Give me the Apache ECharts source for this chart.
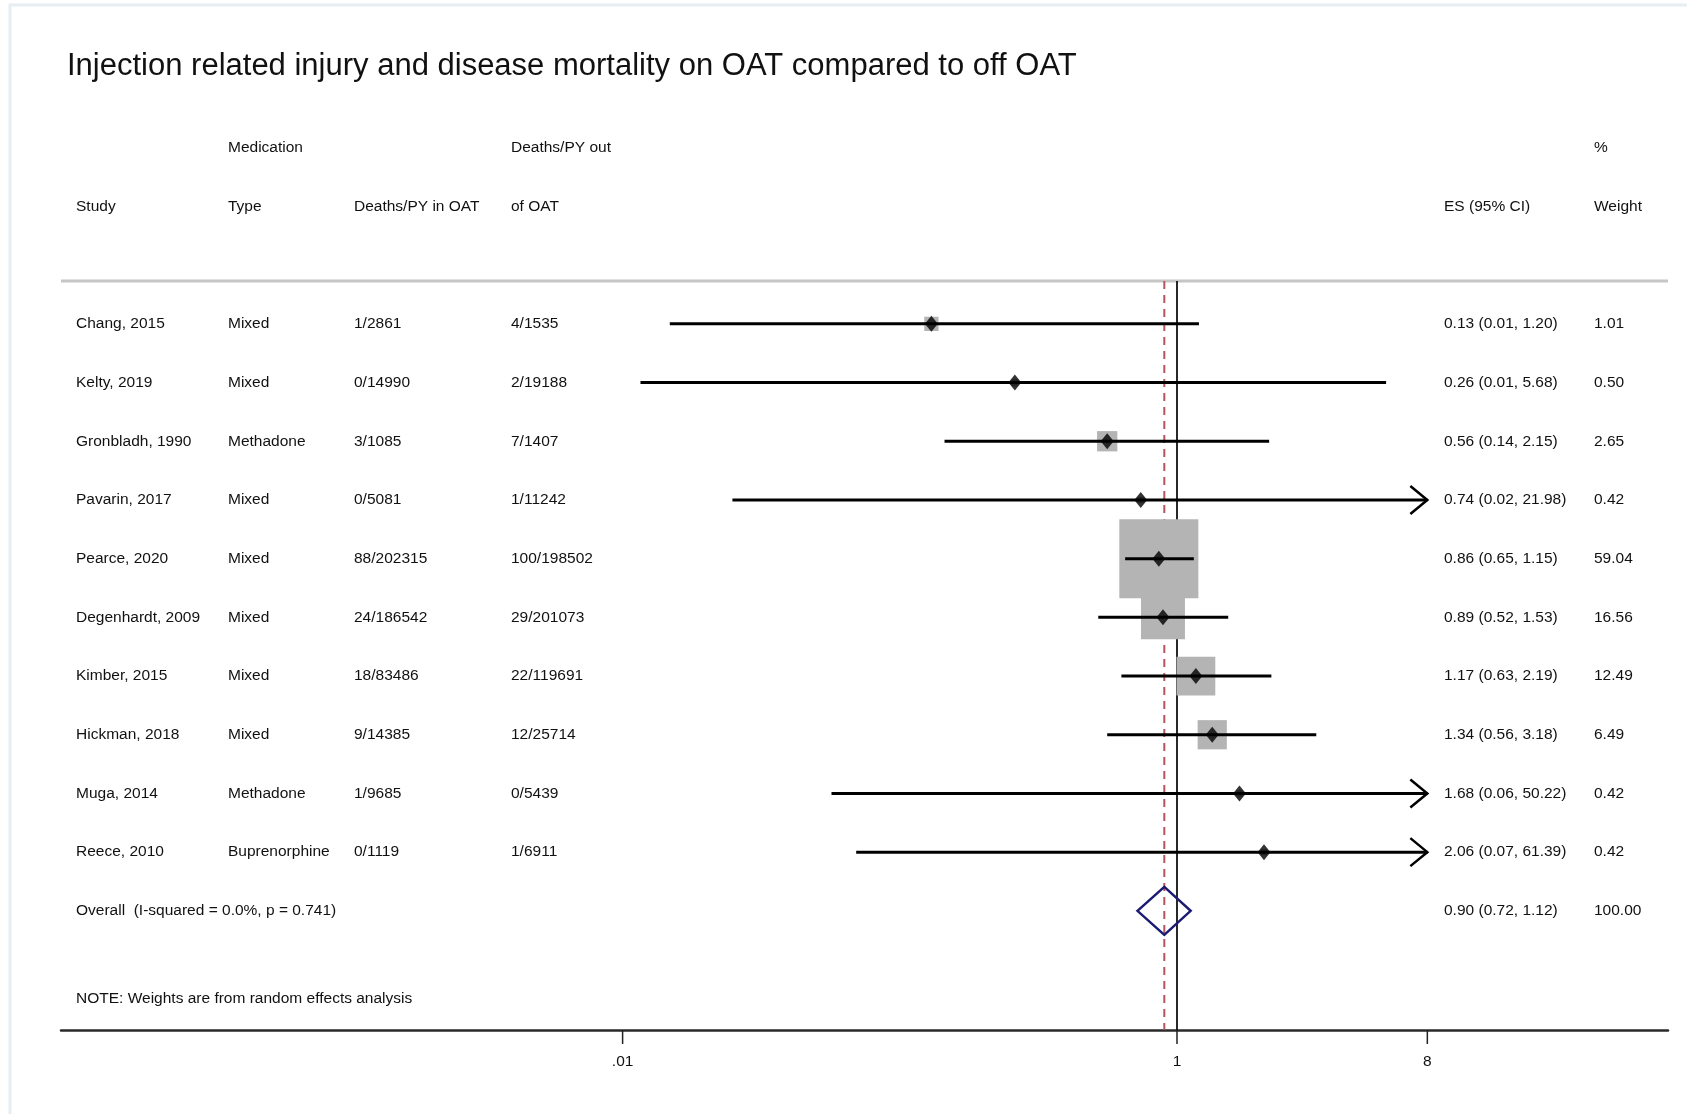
<!DOCTYPE html>
<html><head><meta charset="utf-8">
<script src="https://cdn.jsdelivr.net/npm/echarts@6/dist/echarts.min.js"></script>
<style>html,body{margin:0;padding:0;background:#fff}#c{width:1687px;height:1114px}</style>
</head><body><div id="c"></div>
<script>
// ---------------- data ----------------
const chartTitle = 'Injection related injury and disease mortality on OAT compared to off OAT';
const studies = ['Chang, 2015','Kelty, 2019','Gronbladh, 1990','Pavarin, 2017','Pearce, 2020','Degenhardt, 2009','Kimber, 2015','Hickman, 2018','Muga, 2014','Reece, 2010'];
const medTypes = ['Mixed','Mixed','Methadone','Mixed','Mixed','Mixed','Mixed','Mixed','Methadone','Buprenorphine'];
const deathsInOAT = ['1/2861','0/14990','3/1085','0/5081','88/202315','24/186542','18/83486','9/14385','1/9685','0/1119'];
const deathsOutOAT = ['4/1535','2/19188','7/1407','1/11242','100/198502','29/201073','22/119691','12/25714','0/5439','1/6911'];
const esValues = [0.13,0.26,0.56,0.74,0.86,0.89,1.17,1.34,1.68,2.06];
const ciLow = [0.0148,0.0116,0.145,0.0249,0.65,0.52,0.63,0.56,0.0567,0.0696];
const ciHigh = [1.20,5.68,2.15,21.98,1.15,1.53,2.19,3.18,50.22,61.39];
const esText = ['0.13 (0.01, 1.20)','0.26 (0.01, 5.68)','0.56 (0.14, 2.15)','0.74 (0.02, 21.98)','0.86 (0.65, 1.15)','0.89 (0.52, 1.53)','1.17 (0.63, 2.19)','1.34 (0.56, 3.18)','1.68 (0.06, 50.22)','2.06 (0.07, 61.39)'];
const weights = [1.01,0.50,2.65,0.42,59.04,16.56,12.49,6.49,0.42,0.42];
const weightText = ['1.01','0.50','2.65','0.42','59.04','16.56','12.49','6.49','0.42','0.42'];
const overallLabel = 'Overall  (I-squared = 0.0%, p = 0.741)';
const overallES = 0.90, overallLow = 0.72, overallHigh = 1.12;
const overallText = '0.90 (0.72, 1.12)';
const overallWeightText = '100.00';
const noteText = 'NOTE: Weights are from random effects analysis';
const headerLine1 = ['', 'Medication', '', 'Deaths/PY out', '', '%'];
const headerLine2 = ['Study', 'Type', 'Deaths/PY in OAT', 'of OAT', 'ES (95% CI)', 'Weight'];
const tickValues = [0.01, 1, 8];
const tickLabels = ['.01', '1', '8'];
const nullValue = 1;

// ---------------- layout ----------------
const FONT = '"Liberation Sans", Arial, Helvetica, sans-serif';
const TXT = 15.5;
const colX = [76, 228, 354, 511, 1444, 1594];
const X_MIN = Math.pow(10, -4.026), X_MAX = Math.pow(10, 1.7713);
const CLIP_MAX = tickValues[tickValues.length - 1];
const Y_MIN = -0.73, Y_MAX = 12.03;
const N = studies.length;
const overallRow = N, noteRow = N + 1.5;
const rows = studies.map((s, i) => i);

function boxSide(w) { return 9.7 * Math.sqrt(w) + (w >= 1 ? 4.5 : 0); }
function txt(x, y, s, extra) {
  return { type: 'text', x: x, y: y, style: Object.assign({ text: s, fill: '#111', font: TXT + 'px ' + FONT, textVerticalAlign: 'middle', textAlign: 'left' }, extra || {}) };
}

const chart = echarts.init(document.getElementById('c'), null, { renderer: 'canvas' });
chart.setOption({
  backgroundColor: '#ffffff',
  animation: false,
  grid: { left: 61, right: 19, top: 281, bottom: 84 },
  xAxis: {
    type: 'log', logBase: 10, min: X_MIN, max: X_MAX, position: 'bottom',
    axisLine: { show: true, onZero: false, lineStyle: { color: '#2a2a2a', width: 2.5 } },
    axisTick: { show: false }, axisLabel: { show: false }, splitLine: { show: false }
  },
  yAxis: { type: 'value', inverse: true, min: Y_MIN, max: Y_MAX, show: false },
  graphic: [
    { type: 'rect', shape: { x: 10, y: 5, width: 1720, height: 1200 }, style: { fill: 'none', stroke: '#e6eef2', lineWidth: 3 }, z: 0 },
    { type: 'line', shape: { x1: 61, y1: 281, x2: 1668, y2: 281 }, style: { stroke: '#c6c6c6', lineWidth: 3 }, z: 1 },
    { type: 'text', x: 67, y: 66, style: { text: chartTitle, fill: '#111', font: '31px ' + FONT, textVerticalAlign: 'middle' }, z: 5 }
  ],
  series: [
    { // reference lines (null line and overall estimate)
      type: 'custom', z: 1, clip: false, silent: true,
      data: [[nullValue, 0], [overallES, 1]],
      renderItem: function (params, api) {
        const v = api.value(0), top = api.coord([v, Y_MIN]), bot = api.coord([v, Y_MAX]);
        const dashed = api.value(1) === 1;
        return { type: 'line', shape: { x1: top[0], y1: top[1], x2: bot[0], y2: bot[1] },
          style: dashed ? { stroke: '#b5545c', lineWidth: 2, lineDash: [8, 6] } : { stroke: '#111', lineWidth: 1.8 } };
      }
    },
    { // weight boxes
      type: 'custom', z: 2, clip: false, silent: true,
      data: rows.map(i => [esValues[i], i, weights[i]]),
      renderItem: function (params, api) {
        const c = api.coord([api.value(0), api.value(1)]), s = boxSide(api.value(2));
        return { type: 'rect', shape: { x: c[0] - s / 2, y: c[1] - s / 2, width: s, height: s }, style: { fill: '#b4b4b4' } };
      }
    },
    { // confidence intervals with arrows for truncated ends
      type: 'custom', z: 3, clip: false, silent: true,
      data: rows.map(i => [ciLow[i], ciHigh[i], i]),
      renderItem: function (params, api) {
        const lo = api.value(0), hi = api.value(1), r = api.value(2);
        const p1 = api.coord([lo, r]), p2 = api.coord([Math.min(hi, CLIP_MAX), r]);
        const ch = [{ type: 'line', shape: { x1: p1[0], y1: p1[1], x2: p2[0], y2: p2[1] }, style: { stroke: '#000', lineWidth: 3 } }];
        if (hi > CLIP_MAX) {
          ch.push({ type: 'polyline', shape: { points: [[p2[0] - 17, p2[1] - 14], [p2[0], p2[1]], [p2[0] - 17, p2[1] + 14]] }, style: { stroke: '#000', lineWidth: 2.5, fill: 'none' } });
        }
        return { type: 'group', children: ch };
      }
    },
    { // point estimates
      type: 'scatter', z: 4, silent: true,
      symbol: 'diamond', symbolSize: [13, 16],
      itemStyle: { color: '#000' },
      data: rows.map(i => [esValues[i], i])
    },
    { // overall diamond
      type: 'custom', z: 4, clip: false, silent: true,
      data: [[overallLow, overallES, overallHigh, overallRow]],
      renderItem: function (params, api) {
        const r = api.value(3);
        const l = api.coord([api.value(0), r]), m = api.coord([api.value(1), r]), h = api.coord([api.value(2), r]);
        return { type: 'polygon', shape: { points: [[l[0], l[1]], [m[0], m[1] - 24], [h[0], h[1]], [m[0], m[1] + 24]] },
          style: { fill: 'none', stroke: '#1b1b73', lineWidth: 2.5 } };
      }
    },
    { // study rows text
      type: 'custom', z: 5, clip: false, silent: true,
      data: rows.map(i => [1, i]),
      renderItem: function (params, api) {
        const i = params.dataIndex, y = api.coord([1, api.value(1)])[1];
        const vals = [studies[i], medTypes[i], deathsInOAT[i], deathsOutOAT[i], esText[i], weightText[i]];
        return { type: 'group', children: vals.map((s, k) => txt(colX[k], y, s)) };
      }
    },
    { // header, overall and note text
      type: 'custom', z: 5, clip: false, silent: true,
      data: [[1, -3, 0], [1, -2, 1], [1, overallRow, 2], [1, noteRow, 3]],
      renderItem: function (params, api) {
        const y = api.coord([1, api.value(1)])[1], kind = api.value(2);
        let vals;
        if (kind === 0) vals = headerLine1;
        else if (kind === 1) vals = headerLine2;
        else if (kind === 2) vals = [overallLabel, '', '', '', overallText, overallWeightText];
        else vals = [noteText, '', '', '', '', ''];
        return { type: 'group', children: vals.map((s, k) => txt(colX[k], y, s)) };
      }
    },
    { // x-axis ticks and labels
      type: 'custom', z: 5, clip: false, silent: true,
      data: tickValues.map((v, k) => [v, k]),
      renderItem: function (params, api) {
        const p = api.coord([api.value(0), Y_MAX]);
        return { type: 'group', children: [
          { type: 'line', shape: { x1: p[0], y1: p[1], x2: p[0], y2: p[1] + 14 }, style: { stroke: '#222', lineWidth: 1.5 } },
          txt(p[0], p[1] + 32, tickLabels[api.value(1)], { textAlign: 'center' })
        ] };
      }
    }
  ]
});
</script>
</body></html>
